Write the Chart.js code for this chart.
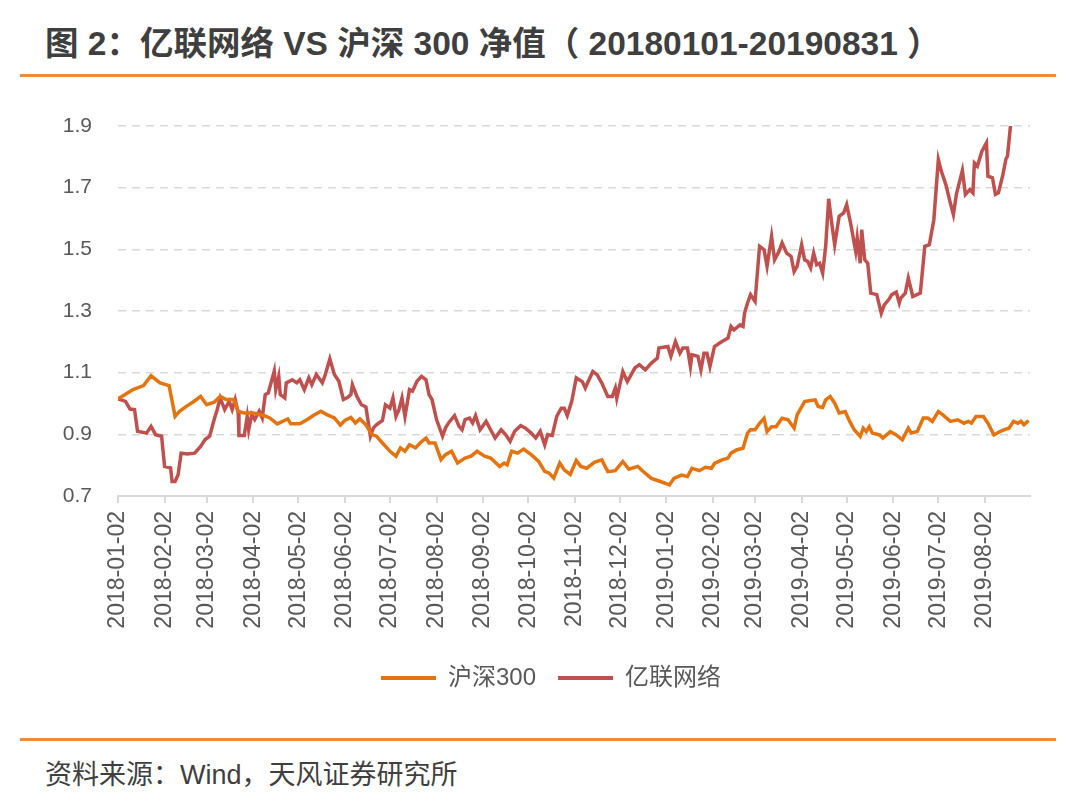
<!DOCTYPE html>
<html>
<head>
<meta charset="utf-8">
<script src="https://cdn.jsdelivr.net/npm/chart.js@4.4.1/dist/chart.umd.min.js"></script>
<style>
  html, body { margin: 0; padding: 0; background: #ffffff; }
  #page { position: relative; width: 1080px; height: 801px; overflow: hidden; background: #ffffff;
          font-family: "Liberation Sans", "Noto Sans CJK SC", sans-serif; }
  #title { position: absolute; left: 45px; top: 21px; font-size: 33.5px; font-weight: bold; color: #3f3f3f;
           white-space: nowrap; line-height: 46px; }
  .rule { position: absolute; left: 20px; width: 1036px; height: 3px; background: #ee8b3a; }
  #source { position: absolute; left: 45px; top: 756px; font-size: 27px; color: #3f3f3f; white-space: nowrap; line-height: 38px; }
  #chartBox { position: absolute; left: 0; top: 85px; width: 1080px; height: 630px; }
</style>
</head>
<body>
<div id="page">
  <div id="title">图 2：亿联网络 VS 沪深 300 净值（ 20180101-20190831 ）</div>
  <div class="rule" style="top:74px"></div>
  <div id="chartBox"><canvas id="c" width="1080" height="630"></canvas></div>
  <div class="rule" style="top:738px"></div>
  <div id="source">资料来源：Wind，天风证券研究所</div>
</div>
<script>
// ---- data (x = days since 2018-01-02) ----
const startDate = "2018-01-02";
const tickLabels = ["2018-01-02","2018-02-02","2018-03-02","2018-04-02","2018-05-02","2018-06-02",
  "2018-07-02","2018-08-02","2018-09-02","2018-10-02","2018-11-02","2018-12-02","2019-01-02",
  "2019-02-02","2019-03-02","2019-04-02","2019-05-02","2019-06-02","2019-07-02","2019-08-02"];
const seriesNames = ["沪深300", "亿联网络"];

const hs300Day = [0,5,10,17,22,28,34,38,41,45,50,55,59,64,68,72,77,80,84,90,97,101,106,113,115,121,126,130,135,139,144,
  148,151,155,158,161,165,169,172,176,179,181,185,188,191,194,198,201,205,207,211,215,218,222,226,231,235,239,244,248,
  254,257,259,262,266,270,275,280,284,287,290,294,297,301,305,308,312,317,322,326,331,336,340,346,349,355,361,367,370,
  375,379,382,387,391,395,397,402,406,408,412,416,419,421,424,427,430,432,435,438,442,446,450,452,457,461,464,466,469,
  471,474,477,480,484,487,490,494,496,498,500,502,507,509,514,518,522,526,528,532,536,539,542,546,549,554,559,563,566,
  568,571,576,579,583,587,590,593,596,599,601,603,606];
const hs300Value = [1.015,1.03,1.045,1.058,1.09,1.067,1.058,0.958,0.975,0.989,1.005,1.023,0.996,1.004,1.023,1.013,1.013,
  0.975,0.969,0.969,0.961,0.953,0.934,0.95,0.934,0.934,0.948,0.961,0.975,0.964,0.953,
  0.93,0.945,0.955,0.937,0.95,0.931,0.899,0.894,0.872,0.856,0.845,0.829,0.856,0.845,0.866,0.856,0.872,0.888,0.872,0.872,
  0.818,0.834,0.845,0.807,0.823,0.829,0.845,0.829,0.823,0.796,0.807,0.801,0.845,0.839,0.852,0.834,0.812,0.78,0.774,0.758,
  0.807,0.785,0.77,0.815,0.796,0.79,0.809,0.817,0.779,0.782,0.812,0.787,0.796,0.782,0.757,0.747,0.736,0.757,0.768,0.763,
  0.79,0.782,0.793,0.79,0.806,0.817,0.823,0.839,0.85,0.855,0.904,0.915,0.915,0.936,0.952,0.909,0.925,0.925,0.952,0.947,
  0.92,0.963,1.006,1.01,1.012,0.99,0.987,1.012,1.023,1.001,0.969,0.974,0.942,0.915,0.893,0.92,0.909,0.925,0.904,0.898,
  0.888,0.909,0.898,0.882,0.92,0.904,0.909,0.953,0.953,0.942,0.974,0.963,0.942,0.947,0.936,0.942,0.936,0.958,0.958,0.936,
  0.898,0.909,0.915,0.92,0.942,0.936,0.942,0.931,0.945];

const yealinkDay = [0,5,8,11,13,19,22,25,29,31,35,36,38,40,42,46,51,55,58,61,64,66,68,71,74,76,78,80,80.5,84,86,87,89,91,
  94,96,98,100,104,105,107,108,111,112,116,119,121,124,127,129,132,136,138,141,144,147,150,153,155,156,159,162,165,168,
  170,172,176,178,181,183,185,187,189,191,194,196,199,202,205,207,209,212,216,218,220,224,227,229,231,234,236,238,241,
  245,248,251,255,258,261,264,268,271,275,278,281,284,286,289,292,295,297,299,302,305,309,311,316,319,322,326,329,331,
  332,336,339,344,347,351,355,359,360,366,368,371,374,376,379,381,382,386,388,390,392,394,397,402,406,408,410,414,416,
  417,419,421,424,427,430,432,435,437,440,442,445,448,450,452,455,457,459,461,463,465,467,469,471,473,475,477,480,483,
  485,488,490,491,492,494,495,497,499,501,505,508,510,513,515,518,520,521,524,526,529,534,537,540,543,546,548,551,554,
  556,558,562,564,567,569,570,572,575,578,579,582,584,586,589,591,592,594,597,600,603,606];
const yealinkValue = [1.015,1.007,0.982,0.98,0.91,0.904,0.926,0.899,0.894,0.796,0.791,0.747,0.747,0.769,0.839,0.836,
  0.839,0.861,0.883,0.894,0.948,0.98,1.018,0.98,1.007,0.98,1.013,0.969,0.896,0.896,0.958,0.915,0.964,0.948,0.975,0.953,
  1.029,1.034,1.105,1.045,1.088,1.029,1.018,1.067,1.077,1.067,1.077,1.045,1.083,1.061,1.094,1.067,1.094,1.145,1.094,
  1.072,1.013,1.02,1.029,1.061,1.023,0.996,0.989,0.894,0.921,0.931,0.945,0.996,0.985,1.018,0.958,0.98,1.018,0.958,1.045,
  1.04,1.072,1.088,1.077,1.029,1.013,0.948,0.894,0.921,0.937,0.961,0.926,0.915,0.948,0.953,0.937,0.961,0.915,0.942,
  0.915,0.888,0.915,0.899,0.877,0.91,0.928,0.921,0.904,0.888,0.91,0.866,0.899,0.896,0.958,0.985,0.985,0.961,1.007,
  1.083,1.071,1.05,1.104,1.093,1.066,1.023,1.023,1.05,1.017,1.104,1.071,1.115,1.126,1.109,1.131,1.147,1.18,1.185,
  1.153,1.201,1.163,1.18,1.18,1.12,1.158,1.153,1.109,1.163,1.163,1.12,1.185,1.201,1.212,1.25,1.239,1.255,1.25,1.293,
  1.326,1.353,1.331,1.51,1.499,1.445,1.542,1.466,1.494,1.521,1.488,1.477,1.428,1.445,1.515,1.466,1.461,1.44,1.488,
  1.45,1.455,1.423,1.51,1.664,1.586,1.515,1.607,1.618,1.645,1.575,1.52,1.494,1.537,1.455,1.564,1.466,1.455,1.358,
  1.353,1.293,1.32,1.337,1.353,1.361,1.326,1.342,1.358,1.407,1.347,1.358,1.51,1.515,1.596,1.791,1.753,1.71,1.65,
  1.613,1.678,1.756,1.678,1.694,1.683,1.78,1.77,1.818,1.845,1.737,1.732,1.678,1.683,1.743,1.793,1.802,1.9,1.95,1.97,
  1.96,1.98];

const yTicks = { min: 0.7, max: 1.9, step: 0.2 };
const xMaxDay = 607;

// ---- helpers ----
function dayOffset(s) {
  const [y, m, d] = s.split("-").map(Number);
  const [y0, m0, d0] = startDate.split("-").map(Number);
  return Math.round((Date.UTC(y, m - 1, d) - Date.UTC(y0, m0 - 1, d0)) / 86400000);
}
const tickDays = tickLabels.map(dayOffset);
const toPoints = (xs, ys) => xs.map((x, i) => ({ x: x, y: ys[i] }));

const ORANGE = "#e5730f";
const RED = "#c0504d";
const GRID = "#d9d9d9";
const TXT = "#595959";
const FONT = '"Liberation Sans", "Noto Sans CJK SC", sans-serif';

const legendShift = {
  id: "legendShift",
  afterLayout(chart) {
    const lg = chart.legend;
    if (lg) { lg.left += 36; lg.right += 36; }
  }
};

new Chart(document.getElementById("c"), {
  type: "line",
  data: {
    datasets: [
      { label: seriesNames[0], data: toPoints(hs300Day, hs300Value), borderColor: ORANGE, backgroundColor: ORANGE,
        borderWidth: 3.5, pointRadius: 0, tension: 0 },
      { label: seriesNames[1], data: toPoints(yealinkDay, yealinkValue), borderColor: RED, backgroundColor: RED,
        borderWidth: 3.5, pointRadius: 0, tension: 0 }
    ]
  },
  options: {
    responsive: false,
    animation: false,
    devicePixelRatio: 1,
    layout: { padding: { left: 0, right: 50, top: 41, bottom: 15 } },
    plugins: {
      tooltip: { enabled: false },
      legend: {
        position: "bottom",
        labels: {
          font: { family: FONT, size: 24 },
          color: TXT,
          boxWidth: 55,
          boxHeight: 4,
          padding: 22,
          generateLabels(chart) {
            return Chart.defaults.plugins.legend.labels.generateLabels(chart).map(l => {
              l.lineWidth = 0; l.fillStyle = l.strokeStyle; return l;
            });
          }
        }
      }
    },
    scales: {
      x: {
        type: "linear",
        min: 0,
        max: xMaxDay,
        afterBuildTicks(scale) { scale.ticks = tickDays.map(v => ({ value: v })); },
        afterFit(scale) { scale.height = 148; },
        ticks: {
          autoSkip: false, maxRotation: 90, minRotation: 90, padding: 8,
          font: { family: FONT, size: 23 }, color: TXT,
          callback(v, i) { return tickLabels[i]; }
        },
        grid: { drawOnChartArea: false, drawTicks: true, tickLength: 7, color: GRID, lineWidth: 2 },
        border: { display: true, color: GRID, width: 2 }
      },
      y: {
        min: yTicks.min,
        max: yTicks.max,
        afterFit(scale) { scale.width = 118; },
        ticks: {
          stepSize: yTicks.step, padding: 26,
          font: { family: FONT, size: 21 }, color: TXT,
          callback(v) { return Number(v).toFixed(1); }
        },
        grid: { color: GRID, lineWidth: 1.5, drawTicks: false, borderDash: [8, 6] },
        border: { display: false, dash: [8, 6] }
      }
    }
  },
  plugins: [legendShift]
});
</script>
</body>
</html>
